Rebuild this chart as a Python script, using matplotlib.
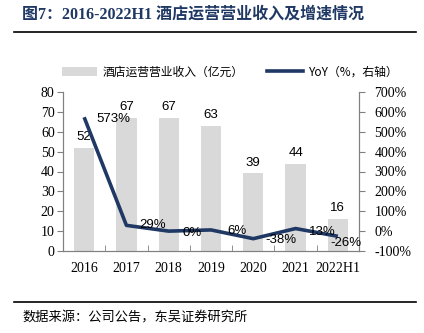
import matplotlib
matplotlib.use("Agg")
import matplotlib.pyplot as plt
from matplotlib.lines import Line2D
from matplotlib.patches import Patch

categories = ["2016", "2017", "2018", "2019", "2020", "2021", "2022H1"]
revenue = [52, 67, 67, 63, 39, 44, 16]
yoy = [573, 29, 0, 6, -38, 13, -26]
yoy_labels = ["573%", "29%", "0%", "6%", "-38%", "13%", "-26%"]

# label placement relative to each YoY point (x in category units, y in %)
yoy_label_dx = [0.7, 0.62, 0.55, 0.62, 0.66, 0.64, 0.18]
yoy_label_dy = [-10, 0, -8, -6, -5, -15, -35]

W, H = 424, 333
fig = plt.figure(figsize=(W / 100, H / 100), dpi=100)
fig.patch.set_facecolor("white")

navy = "#1f3864"
bar_color = "#d9d9d9"
spine_color = "#808080"
serif = ["Liberation Serif", "DejaVu Serif"]
cjk = ["Noto Sans CJK SC", "DejaVu Sans"]

ax = fig.add_axes([63 / W, 1 - 251 / H, (359 - 63) / W, (251 - 92) / H])
ax2 = ax.twinx()

x = list(range(len(categories)))
ax.bar(x, revenue, width=0.48, color=bar_color, zorder=1)
for xi, v in zip(x, revenue):
    ax.text(xi, v + 2.5, str(v), ha="center", va="bottom",
            fontsize=9.5, family="Liberation Sans", color="black")

ax.set_xlim(-0.5, len(categories) - 0.5)
ax.set_ylim(0, 80)
ax.set_yticks(range(0, 81, 10))
ax.set_xticks(x)
ax.set_xticklabels(categories)
ax.set_xticks([i + 0.5 for i in x[:-1]], minor=True)
ax.tick_params(axis="x", which="major", length=0, pad=8)
ax.tick_params(axis="x", which="minor", direction="in", length=4, color=spine_color)
ax.tick_params(axis="y", length=4, color=spine_color, pad=2)

ax2.plot(x, yoy, color=navy, linewidth=2.6, zorder=3, solid_capstyle="butt")
ax2.set_ylim(-100, 700)
ax2.set_yticks(range(-100, 701, 100))
ax2.set_yticklabels([f"{v}%" for v in range(-100, 701, 100)])
ax2.tick_params(axis="y", length=4, color=spine_color, pad=7)
for xi, v, lab, dx, dy in zip(x, yoy, yoy_labels, yoy_label_dx, yoy_label_dy):
    ax2.text(xi + dx, v + dy, lab, ha="center", va="center",
             fontsize=9.5, family="Liberation Sans", color="black", zorder=4)

for a in (ax, ax2):
    a.spines["top"].set_visible(False)
    for s in ("left", "right", "bottom"):
        a.spines[s].set_color(spine_color)
        a.spines[s].set_linewidth(0.8)
    for lab in a.get_xticklabels() + a.get_yticklabels():
        lab.set_family(serif)
        lab.set_fontsize(10)

handles = [Patch(facecolor=bar_color, edgecolor="none"),
           Line2D([0], [0], color=navy, linewidth=2.6)]
labels = ["酒店运营营业收入（亿元）", "YoY（%，右轴）"]
fig.legend(handles, labels, loc="center", bbox_to_anchor=(230 / W, 1 - 72 / H),
           ncol=2, frameon=False, prop={"family": cjk, "size": 8.5},
           handlelength=3.0, columnspacing=2.0, handletextpad=0.5)

fig.text(22 / W, 1 - 15 / H, "图7：2016-2022H1 酒店运营营业收入及增速情况",
         ha="left", va="center", fontsize=11.5, fontweight="bold", color=navy,
         family=["Liberation Serif", "Noto Sans CJK SC", "DejaVu Sans"])
fig.add_artist(Line2D([14 / W, 416 / W], [1 - 32 / H, 1 - 32 / H],
                      color="black", linewidth=1.2))
fig.add_artist(Line2D([14 / W, 416 / W], [1 - 302 / H, 1 - 302 / H],
                      color="black", linewidth=1.2))
fig.text(22 / W, 1 - 318 / H, "数据来源：公司公告，东吴证券研究所",
         ha="left", va="center", fontsize=9.5, color="black", family=cjk)

fig.savefig("out.png", dpi=100, facecolor="white")
